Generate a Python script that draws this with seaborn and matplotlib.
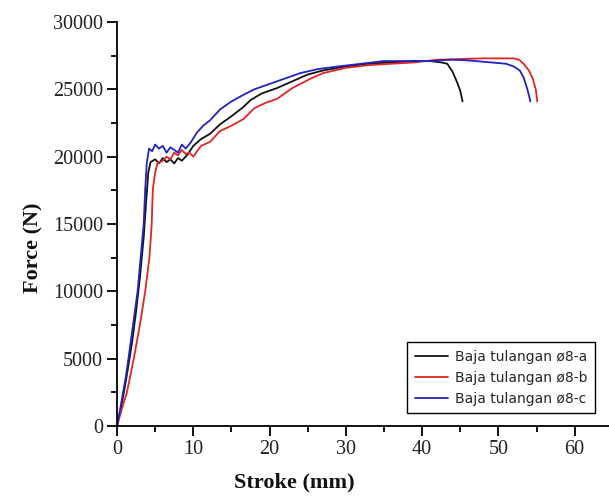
import numpy as np
import pandas as pd
import matplotlib as mpl
mpl.use("Agg")
import matplotlib.pyplot as plt
from matplotlib.ticker import MultipleLocator
import seaborn as sns

sns.set_theme(style="ticks")

# data: stroke (mm) vs force (N)
labels = ["Baja tulangan ø8-a", "Baja tulangan ø8-b", "Baja tulangan ø8-c"]
colors = ["#111111", "#e02525", "#2222c0"]

stroke_a = [0, 0.5, 1.0, 1.5, 2.0, 2.5, 3.0, 3.5, 3.8, 4.1, 4.4, 5.0, 5.5, 6.0,
            6.5, 7.0, 7.5, 8.0, 8.5, 9.0, 9.3, 10.0, 11.0, 12.2, 13.5, 15.0,
            16.6, 17.5, 19.0, 21.0, 23.0, 25.0, 27.0, 30.0, 33.0, 36.0, 39.0,
            41.0, 42.5, 43.3, 44.0, 44.6, 45.0, 45.3]
force_a = [0, 1300, 2800, 4500, 6300, 8500, 11000, 14000, 16500, 18800, 19600,
           19800, 19500, 19900, 19600, 19800, 19500, 19900, 19700, 20000, 20200,
           20800, 21300, 21700, 22400, 23000, 23700, 24200, 24700, 25100, 25600,
           26100, 26400, 26700, 26900, 27000, 27100, 27100, 27000, 26900, 26300,
           25500, 24900, 24100]

stroke_b = [0, 0.6, 1.3, 2.2, 3.0, 3.7, 4.25, 4.55, 4.7, 5.0, 5.3, 6.0, 6.5,
            7.0, 7.5, 8.0, 8.5, 9.0, 9.5, 10.0, 10.5, 11.0, 12.2, 13.5, 15.0,
            16.6, 18.0, 19.5, 21.0, 23.0, 25.4, 27.0, 30.0, 33.0, 36.0, 39.0,
            42.0, 45.0, 48.0, 50.0, 52.0, 52.7, 53.3, 54.0, 54.5, 54.9, 55.1]
force_b = [0, 1200, 2500, 5000, 7500, 10000, 12500, 15000, 17600, 18800, 19500,
           19700, 20000, 19800, 20300, 20100, 20500, 20200, 20300, 20000, 20400,
           20800, 21100, 21900, 22300, 22800, 23600, 24000, 24300, 25100, 25800,
           26200, 26600, 26800, 26900, 27000, 27200, 27250, 27300, 27300, 27300,
           27200, 26900, 26400, 25800, 25000, 24100]

stroke_c = [0, 0.4, 0.8, 1.2, 1.5, 2.1, 2.7, 3.1, 3.5, 3.7, 3.9, 4.2, 4.6, 5.0,
            5.5, 6.0, 6.5, 7.0, 7.5, 8.0, 8.5, 9.0, 9.6, 10.5, 11.3, 12.2, 13.5,
            15.0, 16.6, 18.0, 20.0, 22.0, 24.0, 26.3, 29.0, 32.0, 35.0, 38.0,
            41.0, 43.8, 46.0, 49.0, 51.0, 52.0, 52.8, 53.3, 53.8, 54.2]
force_c = [0, 1200, 2500, 3800, 5000, 7500, 10000, 12500, 15000, 17600, 19500,
           20600, 20400, 20900, 20600, 20800, 20300, 20700, 20500, 20300, 20900,
           20600, 21000, 21800, 22300, 22700, 23500, 24100, 24600, 25000, 25400,
           25800, 26200, 26500, 26700, 26900, 27100, 27100, 27100, 27200, 27150,
           27000, 26900, 26700, 26400, 25900, 25000, 24100]

frames = []
for lab, sx, fy in zip(labels, [stroke_a, stroke_b, stroke_c],
                       [force_a, force_b, force_c]):
    frames.append(pd.DataFrame({"stroke": sx, "force": fy, "sample": lab}))
df = pd.concat(frames, ignore_index=True)

fig = plt.figure(figsize=(6.09, 4.97), dpi=100)
ax = fig.add_axes([117 / 609, 71 / 497, 492 / 609, 404 / 497])

sns.lineplot(data=df, x="stroke", y="force", hue="sample", palette=colors,
             estimator=None, sort=False, linewidth=1.3, ax=ax)

ax.set_xlim(0, 64.5)
ax.set_ylim(0, 30000)
ax.xaxis.set_major_locator(MultipleLocator(10))
ax.xaxis.set_minor_locator(MultipleLocator(5))
ax.yaxis.set_major_locator(MultipleLocator(5000))
ax.yaxis.set_minor_locator(MultipleLocator(2500))
sns.despine(ax=ax)
for s in ["left", "bottom"]:
    ax.spines[s].set_linewidth(1.3)
    ax.spines[s].set_color("black")
ax.tick_params(which="major", direction="out", length=7, width=1.3,
               color="black", pad=3)
ax.tick_params(which="minor", direction="out", length=4, width=1.3,
               color="black")
for t in ax.get_xticklabels() + ax.get_yticklabels():
    t.set_fontfamily("Liberation Serif")
    t.set_fontsize(14.5)
    t.set_color("#222222")

ax.set_xlabel("Stroke (mm)", fontfamily="Liberation Serif", fontweight="bold",
              fontsize=16, color="#111111")
ax.set_ylabel("Force (N)", fontfamily="Liberation Serif", fontweight="bold",
              fontsize=16, color="#111111")
ax.xaxis.set_label_coords(0.36, -0.115)
ax.yaxis.set_label_coords(-0.15, 0.44)

leg = ax.legend(loc="upper left", bbox_to_anchor=(407 / 609, 1 - 342 / 497),
                bbox_transform=fig.transFigure, frameon=True, fancybox=False,
                framealpha=1, edgecolor="black", borderpad=0.55,
                labelspacing=0.5, handlelength=2.4, handletextpad=0.5,
                borderaxespad=0, prop={"family": "DejaVu Sans", "size": 10})
leg.get_frame().set_linewidth(1.0)
for line in leg.get_lines():
    line.set_linewidth(1.3)

fig.savefig("out.png", dpi=100)
